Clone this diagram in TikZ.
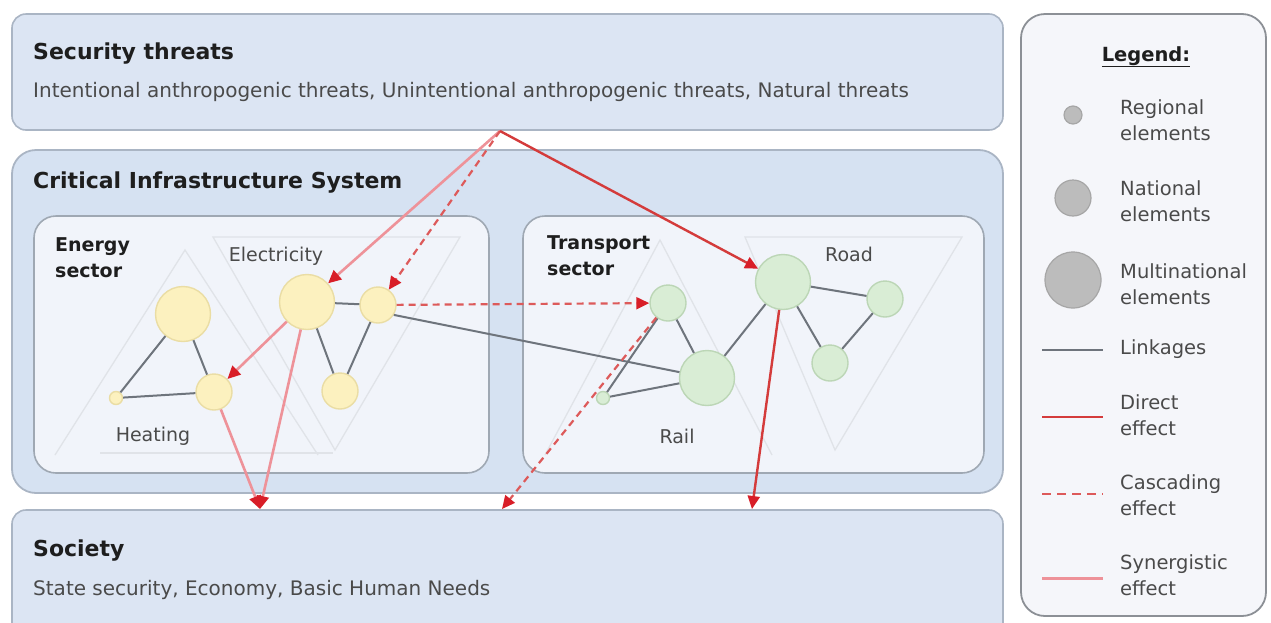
\documentclass[tikz,border=0pt]{standalone}
\usepackage{fontspec}
\setmainfont{DejaVu Sans}
\usetikzlibrary{arrows.meta}
\definecolor{boxfill}{HTML}{DCE5F3}
\definecolor{boxline}{HTML}{AAB5C4}
\definecolor{cisfill}{HTML}{D6E2F2}
\definecolor{secfill}{HTML}{F1F4FA}
\definecolor{secline}{HTML}{9FA8B3}
\definecolor{legfill}{HTML}{F5F6FA}
\definecolor{legline}{HTML}{8C9096}
\definecolor{yelfill}{HTML}{FCF1BF}
\definecolor{yelline}{HTML}{EADDA4}
\definecolor{grnfill}{HTML}{D9EDD5}
\definecolor{grnline}{HTML}{BCD6B6}
\definecolor{grayfill}{HTML}{BCBCBC}
\definecolor{grayline}{HTML}{A6A6A6}
\definecolor{linkgray}{HTML}{6E747C}
\definecolor{directred}{HTML}{D43B3B}
\definecolor{synpink}{HTML}{EE9299}
\definecolor{cascred}{HTML}{DD5A5A}
\definecolor{tipred}{HTML}{D81E28}
\definecolor{faintline}{HTML}{E0E3E8}
\definecolor{titletext}{HTML}{1E1E1E}
\definecolor{bodytext}{HTML}{4A4A4A}
\begin{document}
\begin{tikzpicture}[x=1pt,y=-1pt,
  panel/.style={draw=boxline, fill=boxfill, line width=1.6pt, rounded corners=14pt, inner sep=0pt},
  cispanel/.style={draw=boxline, fill=cisfill, line width=1.8pt, rounded corners=24pt, inner sep=0pt},
  secpanel/.style={draw=secline, fill=secfill, line width=1.6pt, rounded corners=22pt, inner sep=0pt},
  legpanel/.style={draw=legline, fill=legfill, line width=1.8pt, rounded corners=24pt, inner sep=0pt},
  yel/.style={circle, draw=yelline, fill=yelfill, line width=1.4pt, inner sep=0pt},
  grn/.style={circle, draw=grnline, fill=grnfill, line width=1.4pt, inner sep=0pt},
  gry/.style={circle, draw=grayline, fill=grayfill, line width=1.2pt, inner sep=0pt},
  regional/.style={minimum size=13pt},
  national/.style={minimum size=36pt},
  multinational/.style={minimum size=55pt},
  link/.style={draw=linkgray, line width=2pt},
  faint/.style={draw=faintline, line width=1.3pt},
  redtip/.style={-{Triangle[length=13pt,width=12pt,fill=tipred,color=tipred]}},
  direct/.style={draw=directred, line width=2.4pt, redtip},
  synergy/.style={draw=synpink, line width=2.6pt, redtip},
  cascade/.style={draw=cascred, line width=2.2pt, dash pattern=on 7pt off 5pt, redtip},
  bigtitle/.style={inner sep=0pt, anchor=base west, text=titletext, font=\fontsize{22}{26}\selectfont\bfseries},
  subtext/.style={inner sep=0pt, anchor=base west, text=bodytext, font=\fontsize{20}{24}\selectfont},
  sectitle/.style={inner sep=0pt, anchor=north west, align=left, text=titletext, font=\fontsize{19}{26}\selectfont\bfseries},
  grouplabel/.style={inner sep=0pt, anchor=base, text=bodytext, font=\fontsize{19}{24}\selectfont},
  legtext/.style={inner sep=0pt, anchor=north west, align=left, text=bodytext, font=\fontsize{19.5}{26}\selectfont},
  legline/.style={line width=2.4pt}
]
\useasboundingbox (0,0) rectangle (1271,622);
\clip (0,0) rectangle (1271,622);
\fill[white] (0,0) rectangle (1271,622);

% panels
\node[panel, minimum width=991pt, minimum height=116pt] (threats) at (507.5,72) {};
\node[cispanel, minimum width=991pt, minimum height=343pt] (cis) at (507.5,321.5) {};
\node[panel, minimum width=991pt, minimum height=140pt] (society) at (507.5,580) {};
\node[secpanel, minimum width=455pt, minimum height=257pt] (energy) at (261.5,344.5) {};
\node[secpanel, minimum width=461pt, minimum height=257pt] (transport) at (753.5,344.5) {};
\node[legpanel, minimum width=245pt, minimum height=602pt] (legend) at (1143.5,315) {};

% faint group outlines
\draw[faint] (55,455) -- (185,250) -- (318,455);
\draw[faint] (100,453) -- (333,453);
\draw[faint] (213,237) -- (460,237) -- (335,450) -- cycle;
\draw[faint] (545,455) -- (660,240) -- (772,455);
\draw[faint] (745,237) -- (962,237) -- (835,450) -- cycle;

% texts
\node[bigtitle] (ttitle) at (33,59) {Security threats};
\node[subtext] (tsub) at (33,97) {Intentional anthropogenic threats, Unintentional anthropogenic threats, Natural threats};
\node[bigtitle] (cistitle) at (33,188) {Critical Infrastructure System};
\node[sectitle] (entitle) at (55,237) {Energy\\sector};
\node[sectitle] (trtitle) at (547,235) {Transport\\sector};
\node[grouplabel] (lelec) at (276,261) {Electricity};
\node[grouplabel] (lheat) at (153,441) {Heating};
\node[grouplabel] (lroad) at (849,261) {Road};
\node[grouplabel] (lrail) at (677,443) {Rail};
\node[bigtitle] (stitle) at (33,556) {Society};
\node[subtext] (ssub) at (33,595) {State security, Economy, Basic Human Needs};

% infrastructure elements
\node[yel, multinational] (h1) at (183,314) {};
\node[yel, regional] (h3) at (116,398) {};
\node[yel, national] (h2) at (214,392) {};
\node[yel, multinational] (e2) at (307,302) {};
\node[yel, national] (e3) at (378,305) {};
\node[yel, national] (e4) at (340,391) {};
\node[grn, national] (t1) at (668,303) {};
\node[grn, multinational] (t2) at (707,378) {};
\node[grn, regional] (t3) at (603,398) {};
\node[grn, multinational] (r1) at (783,282) {};
\node[grn, national] (r2) at (885,299) {};
\node[grn, national] (r3) at (830,363) {};

% linkages
\draw[link] (h1) -- (h3);
\draw[link] (h1) -- (h2);
\draw[link] (h3) -- (h2);
\draw[link] (e2) -- (e3);
\draw[link] (e2) -- (e4);
\draw[link] (e3) -- (e4);
\draw[link] (e3.-32) -- (t2.168);
\draw[link] (t1) -- (t2);
\draw[link] (t1) -- (t3);
\draw[link] (t3) -- (t2);
\draw[link] (t2) -- (r1);
\draw[link] (r1) -- (r2);
\draw[link] (r1) -- (r3);
\draw[link] (r2) -- (r3);

% effects
\coordinate (apex) at (500,131);
\coordinate (s1) at (260,509);
\coordinate (s2) at (502,509);
\coordinate (s3) at (752,509);
\draw[synergy] (apex) -- (e2);
\draw[cascade] (apex) -- (e3);
\draw[direct] (apex) -- (r1);
\draw[synergy] (e2) -- (h2);
\draw[synergy] (h2) -- (s1);
\draw[synergy] (e2) -- (s1);
\draw[cascade] (e3) -- (t1);
\draw[cascade] (t1) -- (s2);
\draw[direct] (r1) -- (s3);

% legend
\node[inner sep=0pt, anchor=base, text=titletext, font=\fontsize{19.5}{24}\selectfont\bfseries] (legtitle) at (1146,61) {\underline{Legend:}};
\node[gry, minimum size=18pt] (lg1) at (1073,115) {};
\node[legtext] (lt1) at (1120,99) {Regional\\elements};
\node[gry, minimum size=36pt] (lg2) at (1073,198) {};
\node[legtext] (lt2) at (1120,180) {National\\elements};
\node[gry, minimum size=56pt] (lg3) at (1073,280) {};
\node[legtext] (lt3) at (1120,263) {Multinational\\elements};
\coordinate (la1) at (1042,350);
\coordinate (lb1) at (1103,350);
\draw[link] (la1) -- (lb1);
\node[legtext] (lt4) at (1120,339) {Linkages};
\coordinate (la2) at (1042,417);
\coordinate (lb2) at (1103,417);
\draw[draw=directred, legline] (la2) -- (lb2);
\node[legtext] (lt5) at (1120,394) {Direct\\effect};
\coordinate (la3) at (1042,494);
\coordinate (lb3) at (1103,494);
\draw[draw=cascred, legline, dash pattern=on 9pt off 6pt] (la3) -- (lb3);
\node[legtext] (lt6) at (1120,474) {Cascading\\effect};
\coordinate (la4) at (1042,578);
\coordinate (lb4) at (1103,578);
\draw[draw=synpink, legline, line width=3pt] (la4) -- (lb4);
\node[legtext] (lt7) at (1120,554) {Synergistic\\effect};
\end{tikzpicture}
\end{document}
